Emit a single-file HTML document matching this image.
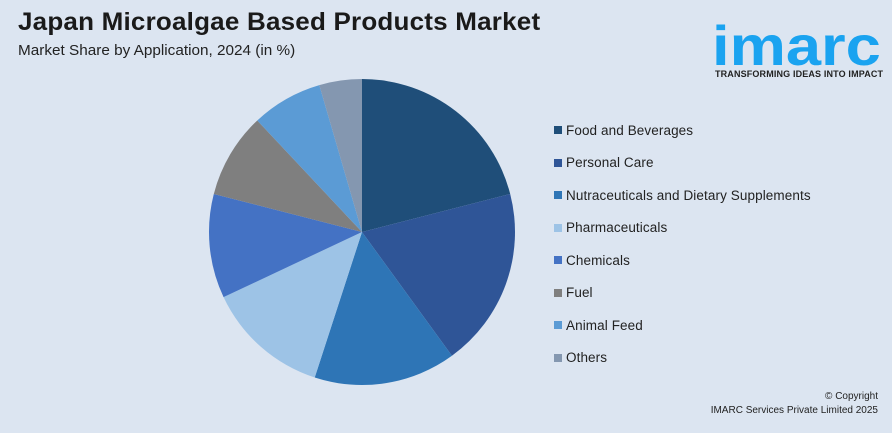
<!DOCTYPE html>
<html><head><meta charset="utf-8"><style>
body{margin:0;width:892px;height:433px;background:#dce5f1;font-family:"Liberation Sans",sans-serif;position:relative;overflow:hidden}
.t{position:absolute;left:18px;top:8px;font-size:25px;font-weight:bold;color:#1a1a1a;letter-spacing:0.2px;transform:scaleX(1.04);transform-origin:left}
.s{position:absolute;left:18px;top:42px;font-size:15px;color:#222;transform:scaleX(1.02);transform-origin:left}
.leg{position:absolute;left:554px;font-size:13.5px;color:#222;display:flex;align-items:center;height:16px;letter-spacing:0.1px}
.leg i{display:inline-block;width:8px;height:8px;margin-right:4px}
.logo{position:absolute;left:712px;top:18px;color:#1aa3f0;font-size:56px;font-weight:bold;line-height:1;transform:scaleX(1.13);transform-origin:left}
.tag{position:absolute;left:715px;top:69px;font-size:9px;font-weight:bold;color:#222;letter-spacing:0.15px}
.cp{position:absolute;right:14px;font-size:10px;color:#222;text-align:right}
</style></head><body>
<div class="t">Japan Microalgae Based Products Market</div>
<div class="s">Market Share by Application, 2024 (in %)</div>
<div class="logo">imarc</div>
<div class="tag">TRANSFORMING IDEAS INTO IMPACT</div>
<svg id="pie" width="892" height="433" style="position:absolute;left:0;top:0"></svg>
<div id="legend"></div>
<div class="cp" style="top:391px">© Copyright</div>
<div class="cp" style="top:405px">IMARC Services Private Limited 2025</div>
<script>
const categories=["Food and Beverages","Personal Care","Nutraceuticals and Dietary Supplements","Pharmaceuticals","Chemicals","Fuel","Animal Feed","Others"];
const shares=[21,19,15,13,11,9,7.5,4.5];
const colors=["#1f4e79","#2f5597","#2e75b6","#9dc3e6","#4472c4","#7f7f7f","#5b9bd5","#8497b0"];
const cx=362,cy=232,r=153;
const svg=document.getElementById('pie');
const tot=shares.reduce((a,b)=>a+b,0);
let a0=0;
shares.forEach((v,i)=>{
 const a1=a0+v/tot*2*Math.PI;
 const x0=cx+r*Math.sin(a0),y0=cy-r*Math.cos(a0),x1=cx+r*Math.sin(a1),y1=cy-r*Math.cos(a1);
 const p=document.createElementNS('http://www.w3.org/2000/svg','path');
 p.setAttribute('d',`M${cx},${cy}L${x0},${y0}A${r},${r} 0 ${a1-a0>Math.PI?1:0} 1 ${x1},${y1}Z`);
 p.setAttribute('fill',colors[i]);
 
 
 svg.appendChild(p);
 a0=a1;
});
const lg=document.getElementById('legend');
categories.forEach((c,i)=>{
 const d=document.createElement('div');
 d.className='leg';d.style.top=(122+i*32.5)+'px';
 d.innerHTML=`<i style="background:${colors[i]}"></i>${c}`;
 
 
 lg.appendChild(d);
});
</script>
</body></html>
